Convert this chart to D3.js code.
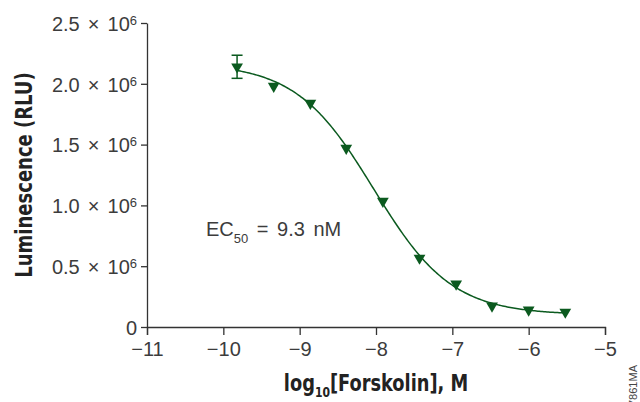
<!DOCTYPE html>
<html>
<head>
<meta charset="utf-8">
<script src="https://cdn.jsdelivr.net/npm/d3@7"></script>
<style>
  body { margin: 0; background: #fff; }
  .tick text { font-family: "Liberation Sans", Arial, sans-serif; }
  .titulo { font-family: "Liberation Sans Narrow", "DejaVu Sans Condensed", sans-serif; font-weight: bold; }
</style>
</head>
<body>
<div id="grafico"></div>
<script>
// Dados
const logConc = [-9.82, -9.34, -8.86, -8.39, -7.91, -7.43, -6.95, -6.48, -6.0, -5.52];
const rlu = [2.14e6, 1.98e6, 1.84e6, 1.47e6, 1.035e6, 0.567e6, 0.354e6, 0.173e6, 0.14e6, 0.123e6];
const rluErr = [0.095e6, null, null, null, null, null, null, null, null, null];

// Parâmetros do ajuste (4PL)
const fitTop = 2.17e6;
const fitBottom = 0.1e6;
const fitLogEC50 = -8.03;
const fitHill = 0.85;

const xTicks = [-11, -10, -9, -8, -7, -6, -5];
const yTicks = [0, 0.5e6, 1.0e6, 1.5e6, 2.0e6, 2.5e6];
const yTickLabels = ["0", "0.5", "1.0", "1.5", "2.0", "2.5"];

// Dimensões
const width = 640;
const height = 402;
const margin = { top: 23, right: 35, bottom: 75, left: 147 };
const verde = "#0b5a1f";
const cinza = "#333";
const texto = "#3c3c3c";

const svg = d3.select("#grafico")
    .append("svg")
    .attr("width", width)
    .attr("height", height);

const x = d3.scaleLinear().domain([-11, -5]).range([margin.left, width - margin.right]);
const y = d3.scaleLinear().domain([0, 2.5e6]).range([height - margin.bottom, margin.top]);

// Eixo X
const eixoX = svg.append("g")
    .attr("transform", `translate(0,${height - margin.bottom})`)
    .call(d3.axisBottom(x).tickValues(xTicks).tickSize(8).tickPadding(7).tickFormat(d3.format("d")));
eixoX.select(".domain").attr("stroke", cinza).attr("stroke-width", 1.3);
eixoX.selectAll(".tick line").attr("stroke", cinza).attr("stroke-width", 1.3);
eixoX.selectAll(".tick text").attr("fill", texto).style("font-size", "20px");

// Eixo Y
const eixoY = svg.append("g")
    .attr("transform", `translate(${margin.left},0)`)
    .call(d3.axisLeft(y).tickValues(yTicks).tickSize(6).tickPadding(4).tickSizeOuter(0));
eixoY.select(".domain").attr("stroke", cinza).attr("stroke-width", 1.3);
eixoY.selectAll(".tick line").attr("stroke", cinza).attr("stroke-width", 1.3);
eixoY.selectAll(".tick text")
    .attr("fill", texto)
    .style("font-size", "20px")
    .style("word-spacing", "2.5px")
    .attr("dy", "0.36em")
    .each(function(d, i) {
        const t = d3.select(this).text("");
        if (d === 0) {
            t.append("tspan").text(yTickLabels[i]);
            return;
        }
        t.append("tspan").text(yTickLabels[i] + " × 10");
        t.append("tspan").attr("dy", "-0.45em").style("font-size", "13px").text("6");
    });

// Curva ajustada
const curva = d3.range(logConc[0], logConc[logConc.length - 1] + 0.001, 0.02).map(c => ({
    c: c,
    v: fitBottom + (fitTop - fitBottom) / (1 + Math.pow(10, (c - fitLogEC50) * fitHill))
}));
svg.append("path")
    .datum(curva)
    .attr("fill", "none")
    .attr("stroke", verde)
    .attr("stroke-width", 1.5)
    .attr("d", d3.line().x(d => x(d.c)).y(d => y(d.v)));

// Barras de erro
const pontos = logConc.map((c, i) => ({ c: c, v: rlu[i], e: rluErr[i] }));
const erros = svg.append("g").attr("stroke", verde).attr("stroke-width", 1.5);
pontos.filter(d => d.e).forEach(d => {
    erros.append("line")
        .attr("x1", x(d.c)).attr("x2", x(d.c))
        .attr("y1", y(d.v - d.e)).attr("y2", y(d.v + d.e));
    [d.v - d.e, d.v + d.e].forEach(v => {
        erros.append("line")
            .attr("x1", x(d.c) - 5.5).attr("x2", x(d.c) + 5.5)
            .attr("y1", y(v)).attr("y2", y(v));
    });
});

// Marcadores (triângulos invertidos)
svg.append("g")
    .selectAll("path")
    .data(pontos)
    .join("path")
    .attr("d", d3.symbol(d3.symbolTriangle, 60))
    .attr("transform", d => `translate(${x(d.c)},${y(d.v)}) rotate(180)`)
    .attr("fill", verde);

// Texto EC50
const ec = svg.append("text")
    .attr("x", 206)
    .attr("y", 236)
    .attr("fill", texto)
    .style("font-family", "'Liberation Sans', Arial, sans-serif")
    .style("font-size", "20px")
    .style("word-spacing", "3px");
ec.append("tspan").text("EC");
ec.append("tspan").attr("dy", 7).style("font-size", "13px").text("50");
ec.append("tspan").attr("dy", -7).text(" = 9.3 nM");

// Título do eixo Y
svg.append("text")
    .attr("class", "titulo")
    .attr("transform", `translate(32,${(margin.top + height - margin.bottom) / 2}) rotate(-90) scale(0.87,1)`)
    .attr("text-anchor", "middle")
    .attr("fill", "#222")
    .style("font-size", "23px")
    .text("Luminescence (RLU)");

// Título do eixo X
const tx = svg.append("text")
    .attr("class", "titulo")
    .attr("transform", `translate(${(margin.left + width - margin.right) / 2},391) scale(0.86,1)`)
    .attr("text-anchor", "middle")
    .attr("fill", "#222")
    .style("font-size", "23px");
tx.append("tspan").text("log");
tx.append("tspan").attr("dy", 6).style("font-size", "14px").text("10");
tx.append("tspan").attr("dy", -6).text("[Forskolin], M");

// Código da figura
svg.append("text")
    .attr("transform", "translate(637,406) rotate(-90)")
    .attr("fill", "#444")
    .style("font-family", "'Liberation Sans', sans-serif")
    .style("font-size", "11px")
    .text("7861MA");
</script>
</body>
</html>
